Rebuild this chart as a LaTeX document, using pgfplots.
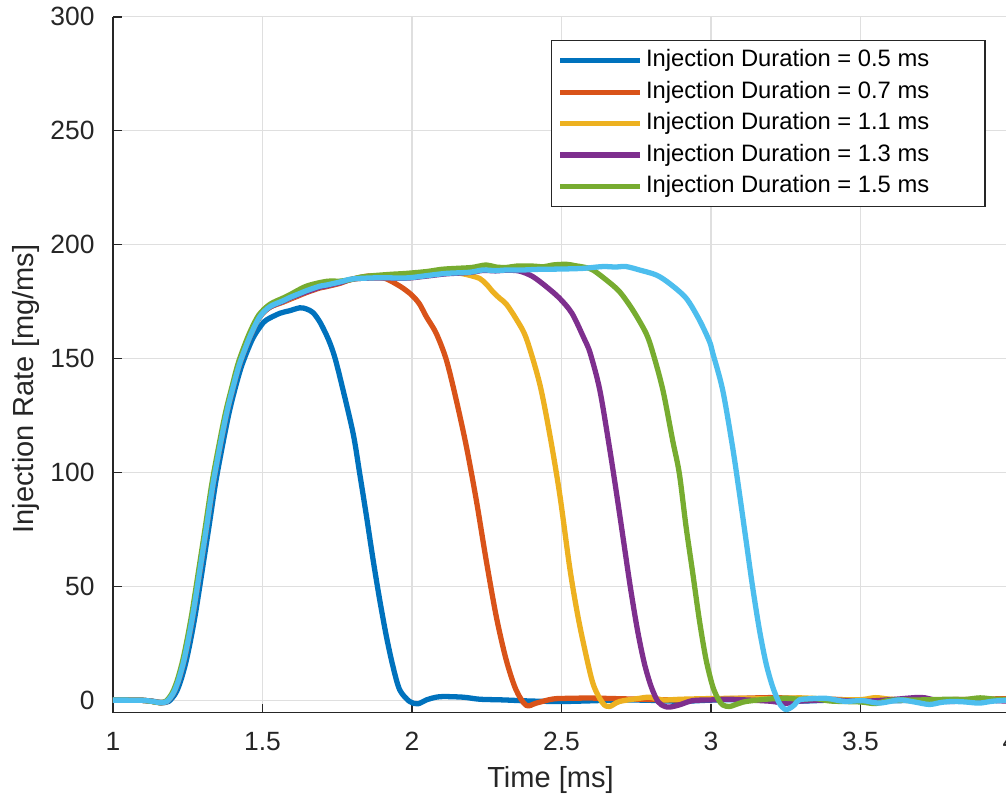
\documentclass[border=0pt]{standalone}
\usepackage{fontspec}
\setmainfont{Liberation Sans}
\usepackage{pgfplots}
\pgfplotsset{compat=1.18}
\usetikzlibrary{calc}
\definecolor{c1}{HTML}{0072BD}
\definecolor{c2}{HTML}{D95319}
\definecolor{c3}{HTML}{EDB120}
\definecolor{c4}{HTML}{7E2F8E}
\definecolor{c5}{HTML}{77AC30}
\definecolor{c6}{HTML}{4DBEEE}
\definecolor{axc}{HTML}{262626}
\definecolor{gridc}{HTML}{DFDFDF}
\begin{document}
\begin{tikzpicture}
\begin{axis}[
  scale only axis, width=339.8pt, height=263.6pt,
  xmin=1, xmax=4, ymin=-5.26, ymax=300,
  axis x line*=bottom, axis y line*=left,
  axis line style={draw=axc, line width=0.6pt},
  xtick={1,1.5,2,2.5,3,3.5,4}, ytick={0,50,100,150,200,250,300},
  tick align=inside, major tick length=3.4pt,
  tick style={draw=axc, line width=0.6pt},
  grid=major, grid style={draw=gridc, line width=0.5pt},
  /pgf/number format/assume math mode=true,
  tick label style={font=\fontsize{10}{12}\selectfont, text=axc},
  xticklabel style={inner sep=0pt, yshift=-7.2pt},
  yticklabel style={inner sep=0pt, xshift=-6.8pt},
  xlabel={Time [ms]}, ylabel={Injection Rate [mg/ms]},
  label style={font=\fontsize{11}{13}\selectfont, text=axc, inner sep=0pt},
  xlabel style={at={(axis description cs:0.4877,-0.0766)}, anchor=north},
  ylabel style={at={(axis description cs:-0.0814,0.4651)}, anchor=south},
  legend style={at={(axis description cs:0.4883,0.9665)}, anchor=north west,
    draw=axc, line width=0.5pt, fill=white,
    inner xsep=2.3pt, inner ysep=3.3pt,
    font=\fontsize{9}{11}\selectfont,
    nodes={inner sep=0pt, text height=6.6pt, text depth=2.0pt, text=black},
    row sep=3.3pt, column sep=1.14pt},
  legend cell align=left,
  legend image code/.code={\draw[#1] (0pt,0pt) -- (30.3pt,0pt);},
]
\addplot[c1, line width=2pt, line join=round, smooth, tension=0.5] coordinates {
(1.000,0.2)(1.050,0.2)(1.100,0.1)(1.135,-0.3)(1.162,-0.9)(1.186,-0.4)(1.2095,3.2)(1.226,8.5)(1.243,16.4)(1.258,25.5)(1.276,38.3)(1.2987,57.3)(1.321,76.3)(1.343,95.4)(1.3655,111.4)(1.388,126.1)(1.410,137.7)(1.432,147.5)(1.466,158.5)(1.495,164.5)(1.5135,167.0)(1.558,169.9)(1.590,171.0)(1.625,172.3)(1.647,171.8)(1.669,170.2)(1.690,166.5)(1.708,162.0)(1.725,157.0)(1.742,150.5)(1.764,139.2)(1.803,117.3)(1.825,99.7)(1.848,80.7)(1.870,61.7)(1.892,44.2)(1.9145,28.1)(1.9365,14.9)(1.959,4.7)(1.992,-0.4)(2.020,-1.4)(2.048,0.3)(2.0925,1.7)(2.170,1.5)(2.226,0.6)(2.304,0.3)(2.400,-0.2)(2.500,-0.4)(2.600,-0.1)(2.700,0.3)(2.800,0.1)(2.900,-0.3)(3.000,0.2)(3.100,0.4)(3.200,0.1)(3.300,-0.2)(3.400,0.2)(3.500,0.4)(3.600,-0.1)(3.700,0.2)(3.800,-0.3)(3.900,0.1)(4.000,0.2)
};
\addlegendentry{\makebox[126.1pt][l]{Injection Duration = 0.5 ms}}
\addplot[c2, line width=2pt, line join=round, smooth, tension=0.5] coordinates {
(1.000,0.2)(1.050,0.2)(1.100,0.1)(1.130,-0.3)(1.157,-0.9)(1.180,-0.4)(1.2015,3.2)(1.218,8.5)(1.235,16.4)(1.250,25.5)(1.268,38.3)(1.2907,57.3)(1.313,76.3)(1.335,95.4)(1.3575,111.4)(1.380,126.1)(1.402,137.7)(1.424,148.0)(1.4577,159.6)(1.491,168.4)(1.5245,172.5)(1.569,174.8)(1.591,176.0)(1.6248,177.8)(1.647,179.0)(1.6916,181.0)(1.714,181.6)(1.758,183.0)(1.792,184.6)(1.825,185.6)(1.860,186.3)(1.892,185.8)(1.9145,185.0)(1.940,183.3)(1.970,180.9)(2.000,177.8)(2.025,174.0)(2.048,168.4)(2.081,161.1)(2.115,149.4)(2.148,131.9)(2.182,111.4)(2.215,88.0)(2.248,61.7)(2.282,36.8)(2.315,17.9)(2.348,4.7)(2.382,-2.1)(2.4156,-1.1)(2.471,0.7)(2.527,1.0)(2.600,1.1)(2.700,0.8)(2.800,0.5)(2.900,0.3)(3.000,0.6)(3.100,1.0)(3.200,1.3)(3.300,0.9)(3.400,0.6)(3.500,0.2)(3.600,0.5)(3.700,0.1)(3.800,0.4)(3.900,0.6)(4.000,0.9)
};
\addlegendentry{\makebox[126.1pt][l]{Injection Duration = 0.7 ms}}
\addplot[c3, line width=2pt, line join=round, smooth, tension=0.5] coordinates {
(1.000,0.2)(1.050,0.2)(1.100,0.1)(1.130,-0.3)(1.157,-0.9)(1.180,-0.4)(1.2015,3.2)(1.218,8.5)(1.235,16.4)(1.250,25.5)(1.268,38.3)(1.2907,57.3)(1.313,76.3)(1.335,95.4)(1.3575,111.4)(1.380,126.1)(1.402,137.7)(1.424,148.0)(1.4577,159.6)(1.491,168.4)(1.5245,172.6)(1.569,175.0)(1.591,176.4)(1.6248,178.2)(1.647,179.4)(1.6916,181.4)(1.714,182.0)(1.758,183.4)(1.792,184.6)(1.825,185.2)(1.892,185.5)(1.950,185.4)(1.992,185.5)(2.048,186.4)(2.114,187.4)(2.160,187.5)(2.182,186.9)(2.226,185.2)(2.250,182.5)(2.270,179.4)(2.293,176.5)(2.315,174.0)(2.348,167.5)(2.382,159.0)(2.4267,139.2)(2.460,117.3)(2.4935,91.0)(2.527,58.8)(2.550,40.5)(2.571,26.6)(2.605,7.6)(2.638,-1.1)(2.6605,-2.6)(2.694,-0.4)(2.761,1.0)(2.794,1.5)(2.8386,0.3)(2.900,0.6)(3.000,0.9)(3.100,1.0)(3.200,0.8)(3.300,1.2)(3.400,0.5)(3.500,0.4)(3.550,1.3)(3.600,0.6)(3.700,-0.2)(3.800,0.1)(3.900,0.3)(4.000,0.5)
};
\addlegendentry{\makebox[126.1pt][l]{Injection Duration = 1.1 ms}}
\addplot[c4, line width=2pt, line join=round, smooth, tension=0.5] coordinates {
(1.000,0.2)(1.050,0.2)(1.100,0.1)(1.130,-0.3)(1.157,-0.9)(1.180,-0.4)(1.2015,3.2)(1.218,8.5)(1.235,16.4)(1.250,25.5)(1.268,38.3)(1.2907,57.3)(1.313,76.3)(1.335,95.4)(1.3575,111.4)(1.380,126.1)(1.402,137.7)(1.424,148.0)(1.4577,159.6)(1.491,168.4)(1.5245,172.6)(1.569,175.1)(1.591,176.5)(1.6248,178.2)(1.647,179.3)(1.6916,181.3)(1.714,181.9)(1.758,183.3)(1.792,184.6)(1.825,185.2)(1.892,185.4)(1.950,185.3)(1.992,185.4)(2.048,186.2)(2.114,187.2)(2.193,187.8)(2.237,188.7)(2.280,188.5)(2.315,188.8)(2.360,188.4)(2.404,186.0)(2.449,181.6)(2.4935,176.5)(2.535,169.9)(2.575,159.0)(2.596,152.4)(2.628,136.3)(2.660,111.4)(2.684,91.0)(2.707,70.5)(2.730,50.0)(2.754,31.0)(2.777,16.4)(2.800,6.1)(2.823,-0.5)(2.846,-2.6)(2.864,-2.8)(2.894,-1.9)(2.939,0.0)(3.000,0.3)(3.050,0.6)(3.100,0.4)(3.200,-0.3)(3.250,-1.2)(3.300,-0.2)(3.400,0.3)(3.500,-0.3)(3.600,0.4)(3.700,1.4)(3.750,0.2)(3.800,-0.4)(3.900,0.2)(4.000,-0.3)
};
\addlegendentry{\makebox[126.1pt][l]{Injection Duration = 1.3 ms}}
\addplot[c5, line width=2pt, line join=round, smooth, tension=0.5] coordinates {
(1.000,0.2)(1.050,0.2)(1.100,0.1)(1.126,-0.3)(1.153,-0.9)(1.176,-0.4)(1.1975,3.2)(1.214,8.5)(1.231,16.4)(1.246,25.5)(1.264,38.3)(1.2867,57.3)(1.309,76.3)(1.331,95.4)(1.3535,111.4)(1.376,126.1)(1.398,137.7)(1.420,148.5)(1.4537,160.3)(1.487,169.0)(1.5245,173.8)(1.569,176.6)(1.591,178.0)(1.647,181.8)(1.714,183.9)(1.758,184.0)(1.792,184.6)(1.830,185.8)(1.870,186.4)(1.930,187.0)(1.981,187.4)(2.048,188.2)(2.100,189.2)(2.148,189.6)(2.200,190.0)(2.248,191.1)(2.280,190.2)(2.315,190.0)(2.350,190.6)(2.404,190.6)(2.440,190.3)(2.471,191.1)(2.516,191.4)(2.545,190.8)(2.580,190.0)(2.605,188.9)(2.650,184.5)(2.694,179.4)(2.738,171.4)(2.783,161.1)(2.806,152.4)(2.839,136.3)(2.872,114.0)(2.894,99.7)(2.9166,76.3)(2.939,55.9)(2.961,35.4)(2.9836,17.9)(3.006,6.1)(3.025,0.5)(3.039,-1.9)(3.0615,-2.6)(3.090,-1.4)(3.117,-0.4)(3.184,0.6)(3.250,1.0)(3.300,0.6)(3.350,0.9)(3.400,-0.2)(3.500,-0.6)(3.550,-1.3)(3.600,0.2)(3.700,0.3)(3.800,0.6)(3.850,0.5)(3.900,1.2)(3.950,0.6)(4.000,0.5)
};
\addlegendentry{\makebox[126.1pt][l]{Injection Duration = 1.5 ms}}
\addplot[c6, line width=2pt, line join=round, smooth, tension=0.5, forget plot] coordinates {
(1.000,0.2)(1.050,0.2)(1.100,0.1)(1.130,-0.3)(1.157,-0.9)(1.180,-0.4)(1.2015,3.2)(1.218,8.5)(1.235,16.4)(1.250,25.5)(1.268,38.3)(1.2907,57.3)(1.313,76.3)(1.335,95.4)(1.3575,111.4)(1.380,126.1)(1.402,137.7)(1.424,148.0)(1.4577,159.6)(1.491,168.4)(1.5245,172.8)(1.569,175.4)(1.591,176.8)(1.6248,178.6)(1.647,179.8)(1.6916,181.8)(1.714,182.3)(1.758,183.6)(1.792,184.8)(1.825,185.2)(1.892,185.5)(1.950,185.4)(1.992,185.5)(2.048,186.4)(2.114,187.4)(2.193,187.9)(2.237,188.9)(2.280,188.6)(2.315,188.9)(2.371,188.9)(2.427,189.2)(2.494,189.3)(2.571,189.6)(2.638,190.4)(2.680,190.2)(2.716,190.4)(2.761,188.9)(2.817,186.7)(2.861,183.0)(2.917,176.5)(2.961,167.0)(2.995,157.5)(3.006,152.4)(3.039,136.3)(3.072,111.4)(3.095,91.0)(3.117,70.5)(3.139,50.0)(3.162,31.0)(3.184,16.4)(3.206,6.1)(3.2285,-1.1)(3.247,-3.8)(3.262,-3.5)(3.279,-1.9)(3.295,0.3)(3.330,0.8)(3.385,1.0)(3.420,0.2)(3.451,-0.4)(3.507,0.0)(3.563,-1.1)(3.630,0.3)(3.680,-0.6)(3.730,-1.7)(3.770,-0.8)(3.807,-0.4)(3.850,-0.6)(3.897,-1.1)(3.940,-0.3)(4.000,0.3)
};
\end{axis}
\pgfresetboundingbox
\path[use as bounding box] ($(current axis.south west)+(-42.80pt,-33.45pt)$) rectangle ($(current axis.north east)+(-1.515pt,6.33pt)$);
\end{tikzpicture}
\end{document}
